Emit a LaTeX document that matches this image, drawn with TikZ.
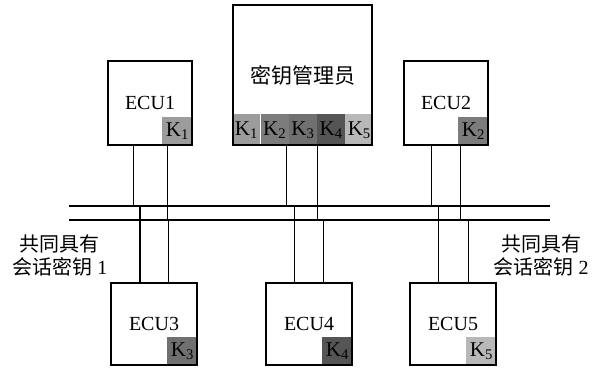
\documentclass[tikz,border=0pt]{standalone}
\usepackage{fontspec}
\setmainfont{Liberation Serif}
\newfontfamily\cjk{Noto Sans CJK SC}
\usetikzlibrary{positioning, backgrounds}
\definecolor{keyOne}{HTML}{9C9C9C}
\definecolor{keyTwo}{HTML}{7C7C7C}
\definecolor{keyThree}{HTML}{707070}
\definecolor{keyFour}{HTML}{555555}
\definecolor{keyFive}{HTML}{B8B8B8}
\tikzset{
  ecuBox/.style={rectangle, draw=black, line width=1.2pt, inner sep=0pt,
                 minimum width=84pt, minimum height=84pt,
                 font=\fontsize{20}{24}\selectfont},
  lowBox/.style={ecuBox, minimum width=86pt, minimum height=82pt},
  mgrBox/.style={ecuBox, minimum width=139pt, minimum height=140pt,
                 font=\fontsize{21}{24}\selectfont},
  keyBox/.style={rectangle, inner sep=0pt, minimum width=30pt, minimum height=28pt,
                 font=\fontsize{21}{22}\selectfont},
  keyCell/.style={keyBox, minimum width=27.8pt, minimum height=31pt},
  wire/.style={line width=1.2pt},
  busLine/.style={line width=1.4pt},
  noteText/.style={align=center, font=\fontsize{20}{23}\selectfont},
}
\begin{document}
\begin{tikzpicture}[x=1pt, y=1pt]
  \useasboundingbox (0,0) rectangle (602,371);
  % devices
  \node[ecuBox] (ecu1) at (150,268) {ECU1};
  \node[mgrBox] (mgr) at (302.5,296) {{\cjk 密钥管理员}};
  \node[ecuBox] (ecu2) at (446,268) {ECU2};
  \node[lowBox] (ecu3) at (154,47) {ECU3};
  \node[lowBox] (ecu4) at (309,47) {ECU4};
  \node[lowBox] (ecu5) at (453,47) {ECU5};
  % keys
  \begin{scope}[on background layer]
    \node[keyBox, fill=keyOne, anchor=south east] (k1) at (ecu1.south east) {K\textsubscript{1}};
    \node[keyBox, fill=keyTwo, anchor=south east] (k2) at (ecu2.south east) {K\textsubscript{2}};
    \node[keyBox, fill=keyThree, anchor=south east] (k3) at (ecu3.south east) {K\textsubscript{3}};
    \node[keyBox, fill=keyFour, anchor=south east] (k4) at (ecu4.south east) {K\textsubscript{4}};
    \node[keyBox, fill=keyFive, anchor=south east] (k5) at (ecu5.south east) {K\textsubscript{5}};
    \node[keyCell, fill=keyOne, anchor=south west] (m1) at (mgr.south west) {K\textsubscript{1}};
    \node[keyCell, fill=keyTwo, right=0pt of m1] (m2) {K\textsubscript{2}};
    \node[keyCell, fill=keyThree, right=0pt of m2] (m3) {K\textsubscript{3}};
    \node[keyCell, fill=keyFour, right=0pt of m3] (m4) {K\textsubscript{4}};
    \node[keyCell, fill=keyFive, right=0pt of m4] (m5) {K\textsubscript{5}};
  \end{scope}
  % bus
  \coordinate (hiL) at (69,165); \coordinate (hiR) at (550,165);
  \coordinate (loL) at (69,151); \coordinate (loR) at (550,151);
  \draw[busLine] (hiL) -- (hiR);
  \draw[busLine] (loL) -- (loR);
  % wires, upper row
  \draw[wire] ([xshift=-16.7pt]ecu1.south) -- ([xshift=-16.7pt]ecu1.south |- hiL);
  \draw[wire] ([xshift=17.3pt]ecu1.south) -- ([xshift=17.3pt]ecu1.south |- loL);
  \draw[wire] ([xshift=-15.8pt]mgr.south) -- ([xshift=-15.8pt]mgr.south |- hiL);
  \draw[wire] ([xshift=15.2pt]mgr.south) -- ([xshift=15.2pt]mgr.south |- loL);
  \draw[wire] ([xshift=-14.3pt]ecu2.south) -- ([xshift=-14.3pt]ecu2.south |- hiL);
  \draw[wire] ([xshift=14.7pt]ecu2.south) -- ([xshift=14.7pt]ecu2.south |- loL);
  % wires, lower row
  \draw[wire] ([xshift=-14pt]ecu3.north) -- ([xshift=-14pt]ecu3.north |- hiL);
  \draw[wire] ([xshift=14.7pt]ecu3.north) -- ([xshift=14.7pt]ecu3.north |- loL);
  \draw[wire] ([xshift=-14.7pt]ecu4.north) -- ([xshift=-14.7pt]ecu4.north |- hiL);
  \draw[wire] ([xshift=14.3pt]ecu4.north) -- ([xshift=14.3pt]ecu4.north |- loL);
  \draw[wire] ([xshift=-14.7pt]ecu5.north) -- ([xshift=-14.7pt]ecu5.north |- hiL);
  \draw[wire] ([xshift=15.3pt]ecu5.north) -- ([xshift=15.3pt]ecu5.north |- loL);
  % notes
  \node[noteText] (noteL) at (60,116) {{\cjk 共同具有}\\{\cjk 会话密钥} 1};
  \node[noteText] (noteR) at (541,116) {{\cjk 共同具有}\\{\cjk 会话密钥} 2};
\end{tikzpicture}
\end{document}
